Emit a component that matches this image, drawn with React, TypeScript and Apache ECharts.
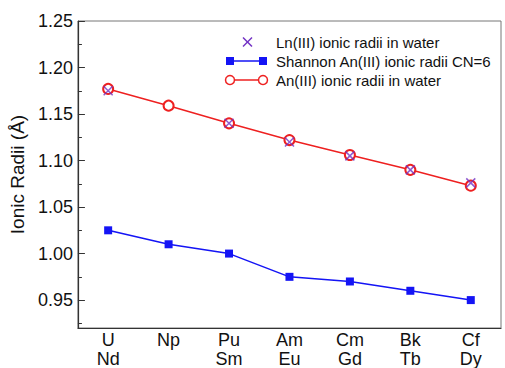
import React, { useEffect, useRef } from "react";
import * as echarts from "echarts";

const categories = ["U\nNd", "Np\n", "Pu\nSm", "Am\nEu", "Cm\nGd", "Bk\nTb", "Cf\nDy"];
const lnWater = [1.175, null, 1.140, 1.120, 1.105, 1.090, 1.076];
const shannonAn = [1.025, 1.010, 1.000, 0.975, 0.970, 0.960, 0.950];
const anWater = [1.177, 1.159, 1.140, 1.122, 1.106, 1.090, 1.073];
const majorTicks = [0.95, 1.0, 1.05, 1.1, 1.15, 1.2, 1.25];
const minorTicks = [0.925, 0.975, 1.025, 1.075, 1.125, 1.175, 1.225];
const seriesNames = [
  "Ln(III) ionic radii in water",
  "Shannon An(III) ionic radii CN=6",
  "An(III) ionic radii in water",
];

const FONT = "'Liberation Sans', Arial, Helvetica, sans-serif";
const AXIS = "#333";
const PURPLE = "#7232c4";
const BLUE = "#1414f5";
const RED = "#ee2020";

export default function App() {
  const ref = useRef<HTMLDivElement>(null);
  useEffect(() => {
    document.body.style.margin = "0";
    if (!ref.current) return;
    const chart = echarts.init(ref.current, undefined, { renderer: "svg" });
    const lx0 = 230;
    const lx1 = 263;
    const rows = [42, 61, 80];
    const textX = 276;
    chart.setOption({
      animation: false,
      textStyle: { fontFamily: FONT },
      grid: {
        left: 74,
        right: 4,
        top: 21,
        bottom: 37,
        show: true,
        borderColor: "#777",
        borderWidth: 1,
      },
      graphic: [
        {
          type: "group",
          children: [
            {
              type: "line",
              shape: { x1: lx0 + 13, y1: rows[0] - 4.5, x2: lx0 + 22, y2: rows[0] + 4.5 },
              style: { stroke: PURPLE, lineWidth: 1.5 },
            },
            {
              type: "line",
              shape: { x1: lx0 + 22, y1: rows[0] - 4.5, x2: lx0 + 13, y2: rows[0] + 4.5 },
              style: { stroke: PURPLE, lineWidth: 1.5 },
            },
            {
              type: "line",
              shape: { x1: lx0, y1: rows[1], x2: lx1, y2: rows[1] },
              style: { stroke: BLUE, lineWidth: 1.5 },
            },
            { type: "rect", shape: { x: lx0 - 4, y: rows[1] - 4, width: 8, height: 8 }, style: { fill: BLUE } },
            { type: "rect", shape: { x: lx1 - 4, y: rows[1] - 4, width: 8, height: 8 }, style: { fill: BLUE } },
            {
              type: "line",
              shape: { x1: lx0, y1: rows[2], x2: lx1, y2: rows[2] },
              style: { stroke: RED, lineWidth: 1.5 },
            },
            {
              type: "circle",
              shape: { cx: lx0, cy: rows[2], r: 4.5 },
              style: { fill: "#fff", stroke: RED, lineWidth: 1.5 },
            },
            {
              type: "circle",
              shape: { cx: lx1, cy: rows[2], r: 4.5 },
              style: { fill: "#fff", stroke: RED, lineWidth: 1.5 },
            },
            ...seriesNames.map((name, i) => ({
              type: "text",
              x: textX,
              y: rows[i],
              style: {
                text: name,
                fill: "#111",
                font: `15px ${FONT}`,
                verticalAlign: "middle",
                align: "left",
              },
            })),
          ],
        },
      ],
      xAxis: {
        type: "category",
        data: categories,
        boundaryGap: true,
        axisLine: { lineStyle: { color: AXIS, width: 1.2 } },
        axisTick: { alignWithLabel: true, inside: true, length: 8, lineStyle: { color: AXIS } },
        axisLabel: {
          color: "#111",
          fontSize: 18,
          fontFamily: FONT,
          margin: 2,
          lineHeight: 19,
        },
        splitLine: { show: false },
      },
      yAxis: [
        {
          type: "value",
          min: 0.92,
          max: 1.25,
          name: "Ionic Radii (Å)",
          nameLocation: "middle",
          nameGap: 44,
          nameTextStyle: { fontSize: 19, color: "#111", fontFamily: FONT },
          axisLine: { show: true, lineStyle: { color: AXIS, width: 1.2 } },
          axisTick: { show: true, inside: true, length: 7, customValues: majorTicks, lineStyle: { color: AXIS } },
          axisLabel: {
            customValues: majorTicks,
            formatter: (v: number) => v.toFixed(2),
            color: "#111",
            fontSize: 18,
            fontFamily: FONT,
            margin: 5,
          },
          splitLine: { show: false },
        },
        {
          type: "value",
          min: 0.92,
          max: 1.25,
          position: "left",
          offset: 0,
          axisLine: { show: false },
          axisTick: { show: true, inside: true, length: 4, customValues: minorTicks, lineStyle: { color: AXIS } },
          axisLabel: { show: false },
          splitLine: { show: false },
        },
      ],
      series: [
        {
          name: seriesNames[0],
          type: "scatter",
          data: lnWater,
          symbol: "path://M0,0L10,10M10,0L0,10",
          symbolSize: 9,
          z: 5,
          itemStyle: { color: "rgba(0,0,0,0)", borderColor: PURPLE, borderWidth: 1.5 },
        },
        {
          name: seriesNames[1],
          type: "line",
          data: shannonAn,
          symbol: "rect",
          symbolSize: 8,
          lineStyle: { color: BLUE, width: 1.5 },
          itemStyle: { color: BLUE },
        },
        {
          name: seriesNames[2],
          type: "line",
          data: anWater,
          symbol: "emptyCircle",
          symbolSize: 10,
          lineStyle: { color: RED, width: 1.5 },
          itemStyle: { color: RED, borderWidth: 1.5 },
        },
      ],
    });
    return () => chart.dispose();
  }, []);
  return <div ref={ref} style={{ width: 505, height: 368 }} />;
}
